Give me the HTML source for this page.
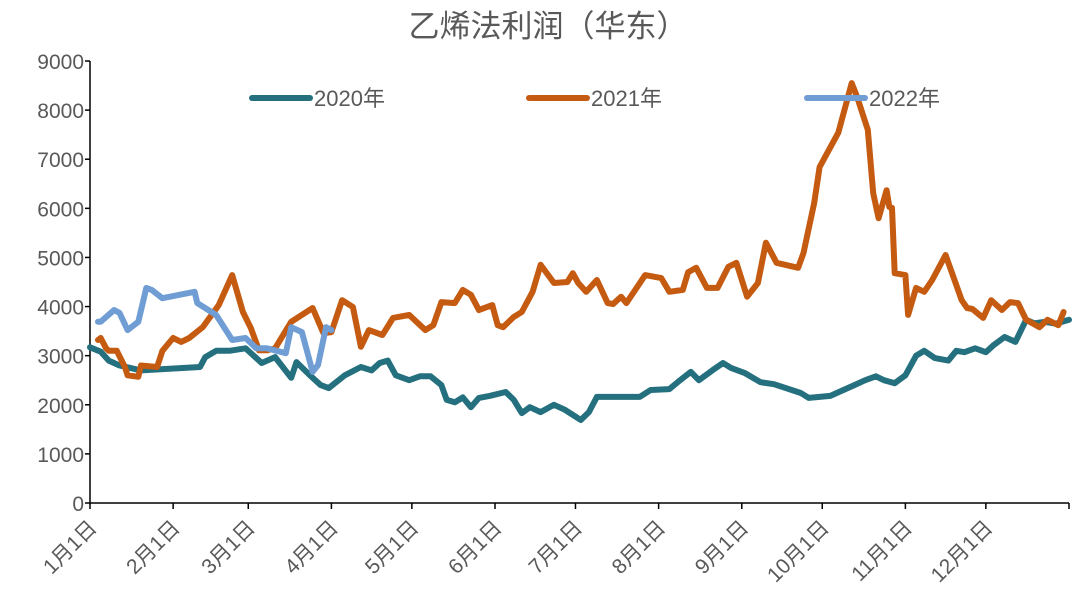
<!DOCTYPE html>
<html><head><meta charset="utf-8"><style>
body{margin:0;background:#fff;}
svg text{font-family:"Liberation Sans","Noto Sans CJK SC",sans-serif;fill:#595959;}
</style></head><body>
<svg id="c" width="1080" height="610" xmlns="http://www.w3.org/2000/svg">
<text x="548" y="37" font-size="31" text-anchor="middle">乙烯法利润（华东）</text>
<g id="axes"></g><g id="series"></g><g id="legend"></g>
</svg>
<script>
const yTicks=[0,1000,2000,3000,4000,5000,6000,7000,8000,9000];
const monthDays=[0,31,59,90,120,151,181,212,243,273,304,334];
const monthLabels=["1月1日","2月1日","3月1日","4月1日","5月1日","6月1日","7月1日","8月1日","9月1日","10月1日","11月1日","12月1日"];
const seriesNames=["2020年","2021年","2022年"];
const days2020=[0,4,7,11,15,19,41,43,47,52,58,64,69,75,77,82,86,89,95,101,105,108,111,114,119,123,127,131,133,136,139,142,145,149,155,158,161,164,168,173,177,183,186,189,198,205,209,216,220,224,227,232,236,239,244,250,255,265,268,276,285,289,293,296,300,304,308,311,315,320,323,326,330,334,337,341,345,349,352,356,360,365];
const vals2020=[3170,3080,2900,2800,2750,2700,2770,2970,3100,3100,3150,2850,2970,2550,2870,2600,2400,2340,2600,2770,2700,2850,2900,2600,2500,2580,2580,2400,2100,2050,2150,1950,2140,2180,2260,2100,1830,1950,1850,2000,1900,1690,1850,2160,2160,2160,2300,2320,2500,2670,2500,2700,2850,2750,2650,2460,2420,2240,2140,2180,2400,2500,2580,2500,2440,2600,3000,3100,2950,2900,3100,3070,3150,3070,3220,3380,3280,3730,3660,3690,3650,3730];
const days2021=[3,4,6,7,10,13,14,18,19,25,27,31,34,37,42,48,53,57,60,63,66,69,75,83,87,90,94,98,101,104,109,113,119,125,128,131,136,139,142,145,150,152,154,158,161,165,168,173,178,180,182,185,189,193,195,198,200,207,213,216,221,223,226,230,234,238,241,245,249,252,256,264,266,270,272,279,284,286,290,292,294,297,298,299,300,304,305,308,311,314,319,325,327,329,333,336,340,343,346,349,354,357,361,363];
const vals2021=[3320,3360,3150,3100,3100,2770,2600,2570,2800,2770,3100,3360,3280,3360,3580,4030,4640,3890,3560,3110,3110,3150,3690,3970,3460,3480,4130,3990,3180,3520,3420,3770,3830,3520,3620,4090,4070,4340,4240,3930,4030,3620,3580,3790,3890,4300,4850,4480,4500,4680,4480,4300,4540,4070,4050,4200,4070,4640,4580,4300,4340,4700,4790,4380,4380,4810,4890,4200,4480,5300,4890,4790,5090,6110,6840,7540,8550,8270,7600,6310,5800,6370,6030,6010,4680,4640,3830,4380,4300,4540,5050,4130,3970,3950,3770,4130,3930,4090,4070,3730,3580,3730,3620,3890];
const days2022=[3,4,9,11,14,18,21,23,27,39,40,47,53,58,62,66,73,75,79,83,85,88,90];
const vals2022=[3690,3690,3930,3870,3520,3690,4380,4340,4170,4300,4070,3830,3320,3360,3150,3150,3050,3580,3480,2670,2810,3580,3520];
const colors=["#25707f","#c55a11","#6f9dd4"];
const X0=90,X1=1069,Y0=503,Y1=61;
const xs=d=>X0+d*(X1-X0)/365;
const ys=v=>Y0-v*(Y0-Y1)/9000;
const NS="http://www.w3.org/2000/svg";
function mk(tag,attrs,parent){const e=document.createElementNS(NS,tag);for(const k in attrs)e.setAttribute(k,attrs[k]);parent.appendChild(e);return e;}
const axes=document.getElementById('axes');
const ya=mk('line',{x1:X0,y1:Y1,x2:X0,y2:Y0,stroke:'#000','stroke-width':1.5},axes);


const xa=mk('line',{x1:X0,y1:Y0,x2:X1,y2:Y0,stroke:'#000','stroke-width':1.5},axes);


yTicks.forEach(v=>{
  const y=ys(v);
  mk('line',{x1:X0-5,y1:y,x2:X0,y2:y,stroke:'#000','stroke-width':1.5},axes);
  const t=mk('text',{x:X0-6,y:y+8,'font-size':21,'text-anchor':'end'},axes);
  t.textContent=v;
  
  
});
monthDays.concat([365]).forEach(d=>{const x=xs(d);mk('line',{x1:x,y1:Y0,x2:x,y2:Y0+6,stroke:'#000','stroke-width':1.5},axes);});
monthDays.forEach((d,i)=>{
  const x=xs(d);
  const ax=x+8, ay=Y0+26;
  const t=mk('text',{x:ax,y:ay,'font-size':21,'text-anchor':'end',transform:`rotate(-45 ${ax} ${ay})`},axes);
  t.textContent=monthLabels[i];
  
  
});
const sg=document.getElementById('series');
[[days2020,vals2020],[days2021,vals2021],[days2022,vals2022]].forEach((s,i)=>{
  const pts=s[0].map((d,j)=>xs(d).toFixed(1)+','+ys(s[1][j]).toFixed(1)).join(' ');
  const p=mk('polyline',{points:pts,fill:'none',stroke:colors[i],'stroke-width':6,'stroke-linejoin':'round','stroke-linecap':'round'},sg);
  
  
});
const lg=document.getElementById('legend');
const lx=[252,529,807];
seriesNames.forEach((n,i)=>{
  const g=mk('g',{},lg);
  
  
  mk('line',{x1:lx[i],y1:98,x2:lx[i]+58,y2:98,stroke:colors[i],'stroke-width':6,'stroke-linecap':'round'},g);
  const t=mk('text',{x:lx[i]+62,y:106,'font-size':22},g);
  t.textContent=n;
});
</script>
</body></html>
